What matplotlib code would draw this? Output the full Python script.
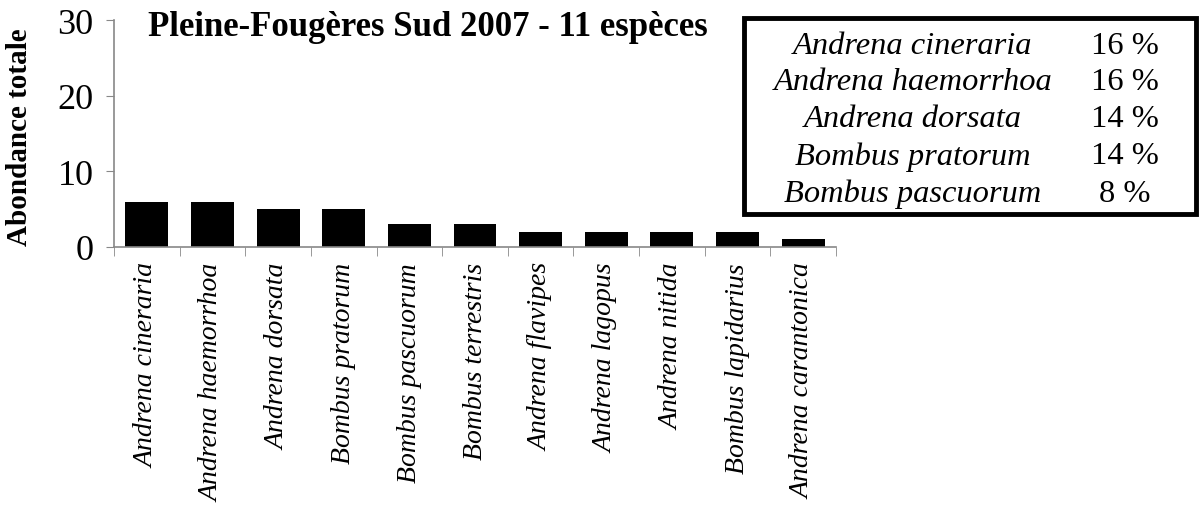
import matplotlib.pyplot as plt
from matplotlib.patches import Rectangle

species = ["Andrena cineraria", "Andrena haemorrhoa", "Andrena dorsata",
           "Bombus pratorum", "Bombus pascuorum", "Bombus terrestris",
           "Andrena flavipes", "Andrena lagopus", "Andrena nitida",
           "Bombus lapidarius", "Andrena carantonica"]
abundance = [6, 6, 5, 5, 3, 3, 2, 2, 2, 2, 1]

top_species = ["Andrena cineraria", "Andrena haemorrhoa", "Andrena dorsata",
               "Bombus pratorum", "Bombus pascuorum"]
top_pct = ["16 %", "16 %", "14 %", "14 %", "8 %"]

title = "Pleine-Fougères Sud 2007 - 11 espèces"

plt.rcParams['font.family'] = ['Liberation Serif', 'DejaVu Serif']

W, H = 1201, 506
fig = plt.figure(figsize=(W / 100, H / 100), dpi=100)
ax = fig.add_axes([114 / W, 1 - 248 / H, (836 - 114) / W, (248 - 21) / H])

x = range(len(species))
ax.bar(x, abundance, width=0.655, color='black')

ax.set_xlim(-0.5, len(species) - 0.5)
ax.set_ylim(0, 30)
ax.set_yticks([0, 10, 20, 30])
ax.tick_params(axis='y', labelsize=26, length=5.8, color='#888888', pad=9)

ax.set_xticks(list(x))
ax.set_xticklabels(species, rotation=90, fontstyle='italic', fontsize=20)
ax.tick_params(axis='x', which='major', length=0, pad=11)
ax.set_xticks([i - 0.5 for i in range(len(species) + 1)], minor=True)
ax.tick_params(axis='x', which='minor', length=6.5, color='#888888')

for s in ['top', 'right']:
    ax.spines[s].set_visible(False)
for s in ['left', 'bottom']:
    ax.spines[s].set_color('#888888')
    ax.spines[s].set_linewidth(1.2)

fig.text(20 / W, 1 - 137 / H, "Abondance totale", fontsize=21, fontweight='bold',
         rotation=90, ha='center', va='center')

fig.text(148 / W, 1 - 27 / H, title, fontsize=25, fontweight='bold',
         ha='left', va='center')

# box with top-5 species
fig.patches.append(Rectangle((744 / W, 1 - 215 / H), (1196 - 744) / W, (215 - 19) / H,
                             transform=fig.transFigure, fill=False,
                             edgecolor='black', linewidth=3.5))
for i, (name, pct) in enumerate(zip(top_species, top_pct)):
    yy = 1 - (46 + 37 * i) / H
    fig.text(913 / W, yy, name, fontsize=23.4, fontstyle='italic',
             ha='center', va='center')
    fig.text(1125 / W, yy, pct, fontsize=23.4, ha='center', va='center')

fig.savefig("out.png", dpi=100)
